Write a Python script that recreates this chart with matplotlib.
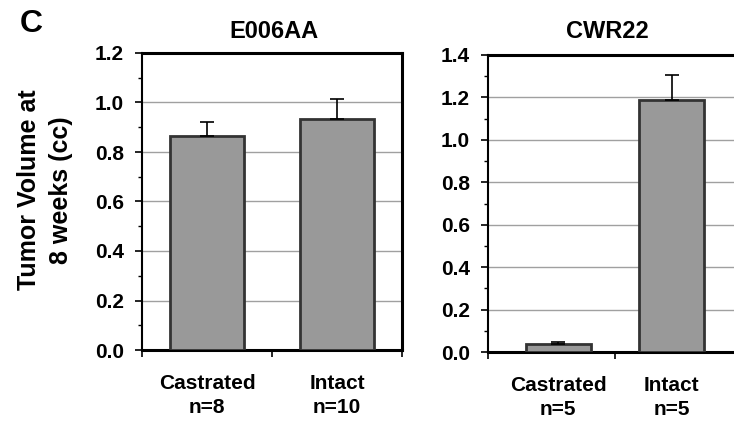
import matplotlib
matplotlib.use('Agg')
import matplotlib.pyplot as plt
from matplotlib.ticker import MultipleLocator, FixedLocator

plt.rcParams['font.family'] = ['Liberation Sans', 'DejaVu Sans']
plt.rcParams['font.weight'] = 'bold'

# data
groups = ['Castrated', 'Intact']
e006_n = ['n=8', 'n=10']
e006_vals = [0.865, 0.935]
e006_err = [0.055, 0.08]
cwr_n = ['n=5', 'n=5']
cwr_vals = [0.04, 1.19]
cwr_err = [0.007, 0.115]

bar_face = '#999999'
bar_edge = '#333333'
grid_col = '#a0a0a0'

fig = plt.figure(figsize=(7.34, 4.21), dpi=100)
W, H = 734, 421


def px_axes(left, top, right, bottom):
    return fig.add_axes([left / W, 1 - bottom / H, (right - left) / W, (bottom - top) / H])


def draw_panel(ax, vals, errs, ns, ymax, xlim, show_right):
    x = list(range(len(vals)))
    ax.bar(x, vals, width=0.57, color=bar_face, edgecolor=bar_edge, linewidth=2, zorder=3)
    ax.errorbar(x, vals, yerr=[[0] * len(errs), errs], fmt='none', ecolor='black',
                elinewidth=1.2, capsize=5, capthick=1.2, zorder=4)
    ax.set_xlim(*xlim)
    ax.set_ylim(0, ymax)
    ax.yaxis.set_major_locator(MultipleLocator(0.2))
    ax.yaxis.set_minor_locator(MultipleLocator(0.1))
    ax.yaxis.set_major_formatter(plt.FuncFormatter(lambda v, p: f'{v:.1f}'))
    ax.grid(axis='y', color=grid_col, linewidth=1.0, zorder=0)
    ax.set_axisbelow(True)
    ax.set_xticks(x)
    ax.set_xticklabels([f'{g}\n{n}' for g, n in zip(groups, ns)], fontsize=15,
                       fontweight='bold', linespacing=1.35)
    ax.xaxis.set_minor_locator(FixedLocator([xlim[0], 0.5, xlim[1]]))
    ax.tick_params(axis='x', which='major', length=0, pad=17)
    ax.tick_params(axis='x', which='minor', length=5, width=1.2, direction='out')
    ax.tick_params(axis='y', which='major', labelsize=15, length=5, width=1.2, pad=8)
    ax.tick_params(axis='y', which='minor', length=3, width=1.0)
    for lab in ax.get_yticklabels():
        lab.set_fontweight('bold')
    for s in ['top', 'bottom', 'left']:
        ax.spines[s].set_linewidth(2.2)
    ax.spines['left'].set_linewidth(1.5)
    ax.spines['right'].set_visible(show_right)
    ax.spines['right'].set_linewidth(2.2)


ax1 = px_axes(142, 53, 402, 350)
draw_panel(ax1, e006_vals, e006_err, e006_n, 1.2, (-0.5, 1.5), True)

ax2 = px_axes(488, 55, 742, 352)
draw_panel(ax2, cwr_vals, cwr_err, cwr_n, 1.4, (-0.62, 1.62), False)

fig.text(274 / W, 1 - 32 / H, 'E006AA', ha='center', va='center', fontsize=17, fontweight='bold')
fig.text(607 / W, 1 - 31 / H, 'CWR22', ha='center', va='center', fontsize=17, fontweight='bold')
fig.text(31 / W, 1 - 24 / H, 'C', ha='center', va='center', fontsize=23, fontweight='bold')
fig.text(45 / W, 1 - 190 / H, 'Tumor Volume at\n8 weeks (cc)', ha='center', va='center',
         rotation=90, fontsize=18, fontweight='bold', multialignment='center', linespacing=1.45)

fig.savefig('out.png', dpi=100)
